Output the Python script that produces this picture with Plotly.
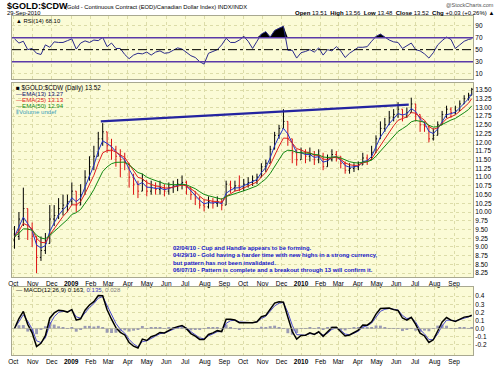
import numpy as np
import pandas as pd
import plotly.graph_objects as go

# ---------------- DATA (weekly readings from the picture) ----------------
week_start = "2008-10-03"
n_weeks = 104
last_day = "2010-09-29"

close = [9.3, 9.8, 10.1, 9.5, 9.3, 8.7, 8.9, 9.1, 9.8, 9.9,
         10.1, 10.2, 10.3, 10.6, 10.2, 10.5, 11.0, 11.3, 11.6, 12.1,
         12.3, 11.9, 11.8, 11.6, 11.5, 11.4, 11.0, 10.8, 10.6, 10.9,
         10.6, 10.7, 10.65, 10.7, 10.6, 10.7, 10.75, 10.8, 10.85, 10.7,
         10.5, 10.4, 10.2, 10.15, 10.3, 10.25, 10.3, 10.2, 10.8, 10.7,
         10.75, 10.7, 10.8, 10.85, 10.9, 11.0, 11.3, 11.4, 11.8, 12.2,
         12.4, 12.6, 12.1, 11.7, 11.5, 11.7, 11.6, 11.65, 11.5, 11.6,
         11.3, 11.5, 11.65, 11.6, 11.4, 11.2, 11.25, 11.3, 11.35, 11.55,
         11.5, 11.7, 12.1, 12.4, 12.5, 12.7, 12.8, 12.95, 12.75, 12.85,
         13.1, 12.8, 12.5, 12.45, 12.1, 12.2, 12.5, 12.8, 12.95, 12.85,
         12.9, 13.1, 13.25, 13.35, 13.52]
high = [9.6, 10.0, 10.7, 10.0, 9.7, 9.2, 9.3, 9.4, 10.2, 10.2,
        10.4, 10.5, 10.5, 10.85, 10.5, 10.8, 11.2, 11.6, 11.9, 12.3,
        12.55, 12.3, 12.1, 11.9, 11.8, 11.7, 11.4, 11.1, 10.9, 11.1,
        10.9, 10.9, 10.85, 10.9, 10.8, 10.85, 10.9, 10.95, 11.05, 10.9,
        10.7, 10.6, 10.45, 10.35, 10.45, 10.4, 10.45, 10.4, 10.9, 10.9,
        10.9, 11.05, 10.95, 11.0, 11.05, 11.1, 11.4, 11.5, 11.9, 12.3,
        12.5, 12.95, 12.5, 12.1, 11.8, 11.85, 11.8, 11.85, 11.75, 11.8,
        11.7, 11.65, 11.8, 11.75, 11.6, 11.45, 11.4, 11.4, 11.45, 11.7,
        11.65, 11.9, 12.2, 12.6, 12.7, 12.9, 12.95, 13.15, 12.9, 13.0,
        13.28, 13.0, 12.75, 12.6, 12.35, 12.4, 12.6, 12.9, 13.05, 13.0,
        13.05, 13.2, 13.35, 13.42, 13.56]
low = [8.95, 9.2, 9.6, 9.2, 9.0, 8.25, 8.6, 8.8, 9.2, 9.6,
       9.8, 9.9, 10.0, 10.2, 10.0, 10.2, 10.6, 10.9, 11.2, 11.6,
       11.9, 11.7, 11.5, 11.3, 11.0, 11.2, 10.7, 10.5, 10.4, 10.6,
       10.45, 10.5, 10.5, 10.5, 10.45, 10.5, 10.55, 10.6, 10.65, 10.5,
       10.35, 10.2, 10.1, 10.02, 10.1, 10.1, 10.15, 10.05, 10.2, 10.55,
       10.6, 10.6, 10.6, 10.7, 10.75, 10.8, 11.0, 11.15, 11.4, 11.9,
       12.1, 12.4, 11.9, 11.4, 11.33, 11.5, 11.4, 11.45, 11.35, 11.4,
       11.2, 11.3, 11.45, 11.45, 11.25, 11.1, 11.1, 11.15, 11.2, 11.4,
       11.35, 11.5, 11.8, 12.2, 12.3, 12.5, 12.6, 12.7, 12.6, 12.7,
       12.85, 12.6, 12.3, 12.3, 12.0, 12.05, 12.3, 12.5, 12.7, 12.7,
       12.8, 12.95, 13.1, 13.2, 13.48]
first_open = 9.2

rsi = [68, 61, 64, 50, 52, 44, 42, 58, 54, 63,
       62, 62, 65, 68, 51, 61, 64.6, 62, 66, 65,
       70.5, 55, 61, 52, 52, 42, 35, 41, 44, 43,
       46, 41, 46, 48, 44, 45, 49, 53, 51, 46,
       40, 37, 30, 26, 44, 47, 50, 58, 69, 62,
       62, 66, 72, 64, 52, 64, 76, 80, 71, 82,
       86, 89, 49, 49, 36, 45, 47, 50, 46, 53,
       41, 50, 48, 55, 48, 37, 44, 49, 54, 54,
       55, 64, 72, 76, 71, 66, 63, 62, 52, 56,
       61, 50, 48, 43, 36, 45, 58, 65, 71, 67,
       52, 58, 64, 67, 68.1]

trend_dates = ["2009-02-17", "2010-06-21"]
trend_vals = [12.60, 13.08]

ema_spans = [13, 25, 50]
macd_params = (12, 26, 9)

price_ticks = [8.25 + 0.25 * i for i in range(22)]
rsi_ticks = [10, 30, 50, 70, 90]
macd_ticks = [-0.2, -0.1, 0.0, 0.1, 0.2, 0.3, 0.4]

notes = ["02/04/10 - Cup and Handle appears to be forming.",
         "04/29/10 - Gold having a harder time with new highs in a strong currency,",
         "but pattern has not been invalidated.",
         "06/07/10 - Pattern is complete and a breakout through 13 will confirm it."]

# ---------------- derived ----------------
dates = list(pd.date_range(week_start, periods=n_weeks, freq="7D")) + [pd.Timestamp(last_day)]
c = pd.Series(close, dtype=float)
opn = np.array([first_open] + close[:-1])
hi = np.maximum.reduce([np.array(high), opn, c.values])
lo = np.minimum.reduce([np.array(low), opn, c.values])


def wema(s, n):
    a = 1 - (1 - 2.0 / (n + 1)) ** 5   # daily EMA length -> weekly step
    return s.ewm(alpha=a, adjust=False).mean()


emas = [wema(c, n) for n in ema_spans]
macd = wema(c, macd_params[0]) - wema(c, macd_params[1])
sig = wema(macd, macd_params[2])
hist = macd - sig

# ---------------- geometry ----------------
W, H = 500, 374
L, R, T, B = 8, 27, 16, 9
PW, PH = W - L - R, H - T - B


def ax(x):
    return (x - L) / PW


def ay(y):
    return 1 - (y - T) / PH


bg = "#FBFBD6"
gc = "#DCDCA8"
lc = "#A8A890"
xr = ["2008-09-29", "2010-10-01"]
months = pd.date_range("2008-10-01", "2010-09-01", freq="MS")
mtext = [("<b>%d</b>" % m.year) if m.month == 1 else m.strftime("%b") for m in months]
tf = dict(family="Liberation Sans", size=6.5, color="black")

fig = go.Figure()

# RSI panel
fig.add_trace(go.Scatter(x=dates, y=[70] * len(dates), mode="lines",
                         line=dict(width=0), xaxis="x", yaxis="y", hoverinfo="skip"))
fig.add_trace(go.Scatter(x=dates, y=np.maximum(np.array(rsi), 70), mode="lines",
                         line=dict(width=0), fill="tonexty", fillcolor="black",
                         xaxis="x", yaxis="y", hoverinfo="skip"))
fig.add_trace(go.Scatter(x=dates, y=rsi, mode="lines", line=dict(color="#2a2a8a", width=1),
                         xaxis="x", yaxis="y"))

# Price panel
fig.add_trace(go.Ohlc(x=dates, open=opn, high=hi, low=lo, close=c,
                      increasing=dict(line=dict(color="black", width=1)),
                      decreasing=dict(line=dict(color="#dd1111", width=1)),
                      tickwidth=0.35, xaxis="x2", yaxis="y2"))
for e, col in zip(emas, ["#2233cc", "#e02020", "#118811"]):
    fig.add_trace(go.Scatter(x=dates, y=e, mode="lines", line=dict(color=col, width=1),
                             xaxis="x2", yaxis="y2"))
fig.add_trace(go.Scatter(x=trend_dates, y=trend_vals, mode="lines",
                         line=dict(color="#2424a0", width=2.2), xaxis="x2", yaxis="y2"))

# MACD panel
fig.add_trace(go.Bar(x=dates, y=hist, marker=dict(color="#9a9ab4", line=dict(width=0)),
                     xaxis="x3", yaxis="y3"))
fig.add_trace(go.Scatter(x=dates, y=sig, mode="lines", line=dict(color="#4a4ad0", width=1),
                         xaxis="x3", yaxis="y3"))
fig.add_trace(go.Scatter(x=dates, y=macd, mode="lines", line=dict(color="black", width=1.5),
                         xaxis="x3", yaxis="y3"))

xcommon = dict(type="date", range=xr, tickvals=list(months), ticktext=mtext,
               showgrid=True, gridcolor=gc, griddash="dot", gridwidth=1,
               showline=True, mirror=True, linecolor=lc, linewidth=1,
               zeroline=False, ticks="", tickfont=tf, rangeslider=dict(visible=False),
               fixedrange=True)
ycommon = dict(side="right", showgrid=True, gridcolor=gc, griddash="dot", gridwidth=1,
               showline=True, mirror=True, linecolor=lc, linewidth=1, zeroline=False,
               ticks="", tickfont=tf, fixedrange=True)

fig.update_layout(
    width=W, height=H, margin=dict(l=L, r=R, t=T, b=B),
    paper_bgcolor="white", plot_bgcolor=bg, showlegend=False, bargap=0.08,
    xaxis=dict(xcommon, anchor="y", domain=[0, 1], showticklabels=False),
    xaxis2=dict(xcommon, anchor="y2", domain=[0, 1], matches="x", showticklabels=True),
    xaxis3=dict(xcommon, anchor="y3", domain=[0, 1], matches="x", showticklabels=True),
    yaxis=dict(ycommon, domain=[ay(81), 1], range=[1, 106], tickvals=rsi_ticks, anchor="x"),
    yaxis2=dict(ycommon, domain=[ay(285), ay(85)], range=[8.13, 13.70], tickvals=price_ticks,
                ticktext=["%.2f" % v for v in price_ticks], anchor="x2"),
    yaxis3=dict(ycommon, domain=[0, ay(295)], range=[-0.329, 0.514], tickvals=macd_ticks,
                ticktext=["%.1f" % v for v in macd_ticks], anchor="x3"),
)

# RSI reference lines
for lvl, dash, col, wd in [(70, "solid", "#5a3aa8", 1.5), (30, "solid", "#5a3aa8", 1.5),
                           (50, "dashdot", "black", 1)]:
    fig.add_shape(type="line", xref="x domain", yref="y", x0=0, x1=1, y0=lvl, y1=lvl,
                  line=dict(color=col, width=wd, dash=dash))
fig.add_shape(type="line", xref="x3 domain", yref="y3", x0=0, x1=1, y0=0, y1=0,
              line=dict(color="#b0b0a0", width=0.6))

ann = []


def add(x, y, text, size=6.5, color="black", xanchor="left", family="Liberation Sans"):
    ann.append(dict(x=ax(x), y=ay(y), xref="paper", yref="paper", text=text, showarrow=False,
                    xanchor=xanchor, yanchor="middle",
                    font=dict(size=size, color=color, family=family)))


add(1, 5.2, "<b>$GOLD:$CDW</b>", size=9)
add(59, 6.5, "(Gold - Continuous Contract (EOD)/Canadian Dollar Index) INDX/INDX", size=5.8)
add(1, 13.4, "29-Sep-2010", size=5.8)
add(496, 4.2, "@StockCharts.com", size=5.5, color="#555555", xanchor="right")
add(496, 13, "<b>Open</b> 13.51  <b>High</b> 13.56  <b>Low</b> 13.48  <b>Close</b> 13.52  "
    "<b>Chg</b> +0.03 (+0.26%) ▲", size=6.0, xanchor="right")
add(10, 21.4, "<b>▲</b> RSI(14) 68.10", size=5.9)
add(10, 90, "■ $GOLD:$CDW (Daily) 13.52", size=6.3)
add(10, 96, "<span style='color:#10106a'>—EMA(13) 13.27</span>", size=6.1)
add(10, 102.3, "<span style='color:#e02020'>—EMA(25) 13.13</span>", size=6.1)
add(10, 108.3, "<span style='color:#118811'>—EMA(50) 12.94</span>", size=6.1)
add(10, 114, "<span style='color:#3aa0b8'>⫴Volume undef</span>", size=6.1)
for i, t in enumerate(notes):
    add(168, 255 + 7.5 * i, "<b>" + t + "</b>", size=5.9, color="#1414c8")
add(10, 297.5, "— MACD(12,26,9) 0.163, <span style='color:#3a3ac0'>0.135</span>, "
    "<span style='color:#808080'>0.028</span>", size=6.1)

fig.update_layout(annotations=ann)
fig.write_html("out.html", config={"displayModeBar": False},
               post_script="document.body.style.margin='0';document.body.style.padding='0';")
